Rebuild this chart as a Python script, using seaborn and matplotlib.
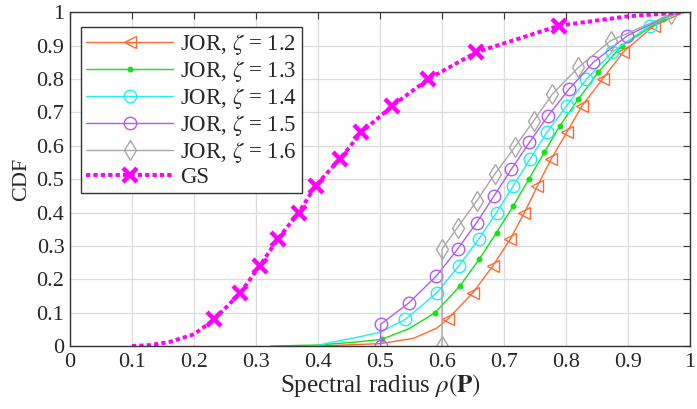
import matplotlib
matplotlib.use("Agg")
import matplotlib.pyplot as plt
import seaborn as sns
import numpy as np

# ---- data ----
gs_x = [0.10, 0.13, 0.16, 0.20, 0.233, 0.275, 0.306, 0.335, 0.369, 0.396, 0.435, 0.470, 0.520, 0.578, 0.655, 0.789, 0.90, 0.99]
gs_y = [0.0, 0.003, 0.012, 0.035, 0.08, 0.16, 0.24, 0.32, 0.40, 0.48, 0.56, 0.64, 0.72, 0.80, 0.88, 0.96, 0.988, 1.0]
gs_mk = [4, 5, 6, 7, 8, 9, 10, 11, 12, 13, 14, 15]

j12_x = [0.40, 0.50, 0.554, 0.591, 0.609, 0.650, 0.682, 0.710, 0.733, 0.754, 0.776, 0.801, 0.826, 0.859, 0.892, 0.942, 0.99]
j12_y = [0.0, 0.007, 0.023, 0.053, 0.08, 0.16, 0.24, 0.32, 0.40, 0.48, 0.56, 0.64, 0.72, 0.80, 0.88, 0.96, 1.0]
j12_mk = [4, 5, 6, 7, 8, 9, 10, 11, 12, 13, 14, 15]

j13_x = [0.324, 0.40, 0.468, 0.503, 0.548, 0.589, 0.629, 0.660, 0.688, 0.715, 0.740, 0.765, 0.790, 0.820, 0.852, 0.890, 0.957, 0.985]
j13_y = [0.0, 0.003, 0.013, 0.02, 0.053, 0.10, 0.18, 0.26, 0.34, 0.42, 0.50, 0.58, 0.66, 0.74, 0.82, 0.90, 0.98, 1.0]
j13_mk = [3, 5, 6, 7, 8, 9, 10, 11, 12, 13, 14, 15, 16]

j14_x = [0.398, 0.414, 0.468, 0.501, 0.541, 0.592, 0.627, 0.659, 0.688, 0.715, 0.742, 0.769, 0.801, 0.833, 0.874, 0.935, 0.98]
j14_y = [0.0, 0.008, 0.028, 0.042, 0.08, 0.16, 0.24, 0.32, 0.40, 0.48, 0.56, 0.64, 0.72, 0.80, 0.88, 0.96, 1.0]
j14_mk = [4, 5, 6, 7, 8, 9, 10, 11, 12, 13, 14, 15]

j15_x = [0.501, 0.501, 0.547, 0.591, 0.625, 0.656, 0.684, 0.712, 0.741, 0.771, 0.805, 0.844, 0.899, 0.976]
j15_y = [0.0, 0.065, 0.13, 0.21, 0.29, 0.37, 0.45, 0.53, 0.61, 0.69, 0.77, 0.85, 0.93, 1.0]
j15_mk = [0, 1, 2, 3, 4, 5, 6, 7, 8, 9, 10, 11, 12]

j16_x = [0.600, 0.600, 0.625, 0.656, 0.685, 0.717, 0.748, 0.778, 0.820, 0.872, 0.970]
j16_y = [0.0, 0.29, 0.355, 0.435, 0.515, 0.595, 0.675, 0.755, 0.835, 0.915, 0.995]
j16_mk = [0, 1, 2, 3, 4, 5, 6, 7, 8, 9, 10]

labels = ["JOR, $\\zeta$ = 1.2", "JOR, $\\zeta$ = 1.3", "JOR, $\\zeta$ = 1.4",
          "JOR, $\\zeta$ = 1.5", "JOR, $\\zeta$ = 1.6", "GS"]
ticks = [0, 0.1, 0.2, 0.3, 0.4, 0.5, 0.6, 0.7, 0.8, 0.9, 1]
tick_labels = ["0", "0.1", "0.2", "0.3", "0.4", "0.5", "0.6", "0.7", "0.8", "0.9", "1"]

# ---- style ----
sns.set_style("white")
plt.rcParams["font.family"] = ["Liberation Serif", "DejaVu Serif"]
plt.rcParams["mathtext.fontset"] = "stix"

fig, ax = plt.subplots(figsize=(6.97, 4.09), dpi=100)
fig.subplots_adjust(left=0.1004, right=0.990, bottom=0.154, top=0.970)

common = dict(ax=ax, sort=False, estimator=None, linewidth=1.0)

sns.lineplot(x=j12_x, y=j12_y, color="#FF6A33", marker="<", markersize=9,
             markerfacecolor="none", markeredgecolor="#FF6A33", markeredgewidth=1.0,
             markevery=j12_mk, label=labels[0], **common)
sns.lineplot(x=j13_x, y=j13_y, color="#14E014", marker="o", markersize=3.5,
             markerfacecolor="#14E014", markeredgecolor="#14E014",
             markevery=j13_mk, label=labels[1], **common)
sns.lineplot(x=j14_x, y=j14_y, color="#1EF0F0", marker="o", markersize=9,
             markerfacecolor="none", markeredgecolor="#1EF0F0", markeredgewidth=1.0,
             markevery=j14_mk, label=labels[2], **common)
sns.lineplot(x=j15_x, y=j15_y, color="#B05CF5", marker="o", markersize=9,
             markerfacecolor="none", markeredgecolor="#B05CF5", markeredgewidth=1.0,
             markevery=j15_mk, label=labels[3], **common)
sns.lineplot(x=j16_x, y=j16_y, color="#A8A8A8", marker="d", markersize=10,
             markerfacecolor="none", markeredgecolor="#A8A8A8", markeredgewidth=1.0,
             markevery=j16_mk, label=labels[4], **common)
sns.lineplot(x=gs_x, y=gs_y, ax=ax, sort=False, estimator=None, color="#FF00FF",
             linewidth=2.8, linestyle=(0, (1.1, 0.8)), marker="x", markersize=10,
             markeredgewidth=3.2, markeredgecolor="#FF00FF", markerfacecolor="#FF00FF",
             markevery=gs_mk, label=labels[5])

ax.set_xlim(0, 1)
ax.set_ylim(0, 1)
ax.set_xticks(ticks)
ax.set_xticklabels(tick_labels)
ax.set_yticks(ticks)
ax.set_yticklabels(tick_labels)
ax.grid(True, color="#DCDCDC", linewidth=0.9)
ax.tick_params(direction="in", top=True, right=True, length=5, width=0.8,
               labelsize=16, color="#333333")
ax.tick_params(axis="x", pad=5)
ax.tick_params(axis="y", pad=4)
for s in ax.spines.values():
    s.set_color("#333333")
    s.set_linewidth(1.0)

ax.set_xlabel("Spectral radius $\\rho(\\mathbf{P})$", fontsize=18, labelpad=0)
ax.set_ylabel("CDF", fontsize=16, labelpad=4)

leg = ax.legend(loc="upper left", bbox_to_anchor=(0.018, 0.955), borderaxespad=0,
                fontsize=16.5, handlelength=3.8, labelspacing=0.08, borderpad=0.22,
                handletextpad=0.3, frameon=True, fancybox=False, framealpha=1)
leg.get_frame().set_edgecolor("#333333")
leg.get_frame().set_linewidth(1.0)

fig.savefig("out.png", dpi=100)
